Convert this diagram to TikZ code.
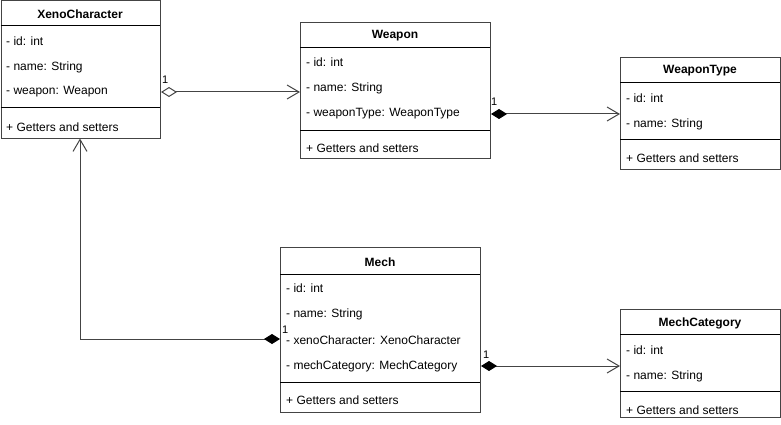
\documentclass[tikz,border=0pt]{standalone}
\usepackage{fontspec}
\setmainfont{Liberation Sans}
\usetikzlibrary{arrows.meta}
\definecolor{edgegray}{HTML}{444444}
\begin{document}
\begin{tikzpicture}[x=1pt,y=-1pt,
  box/.style={draw=edgegray, line width=1pt, inner sep=0, anchor=north west, fill=white},
  inner/.style={draw=black, line width=1pt},
  title/.style={font=\bfseries\fontsize{12}{14}\selectfont, inner sep=0},
  attr/.style={anchor=west, font=\fontsize{12}{14}\selectfont, inner sep=0},
  mult/.style={font=\fontsize{11}{13}\selectfont, inner sep=0, anchor=south west},
  conn/.style={draw=edgegray, line width=1pt},
  comp/.style={{Diamond[length=16pt,width=10pt,color=black,fill=black]}-{Straight Barb[length=12pt,width=14pt,line width=1pt]}},
  aggr/.style={{Diamond[open,length=16pt,width=10pt,line width=1pt]}-{Straight Barb[length=12pt,width=14pt,line width=1pt]}},
]
\useasboundingbox (0,0) rectangle (781,425);

% XenoCharacter
\node[box, minimum width=159.5pt, minimum height=137pt] (xeno) at (0.5,0.5) {};
\node[title] (xenoT) at (80,14) {XenoCharacter};
\draw[inner] (0.5,26) -- (160,26);
\node[attr] (xenoA1) at (6,41) {- id: int};
\node[attr] (xenoA2) at (6,67) {- name: String};
\node[attr] (xenoA3) at (6,92) {- weapon: Weapon};
\draw[inner] (0.5,108) -- (160,108);
\node[attr] (xenoM) at (6,127) {+ Getters and setters};

% Weapon
\node[box, minimum width=190pt, minimum height=136pt] (weapon) at (300,22) {};
\node[title] (weaponT) at (395,36) {Weapon};
\draw[inner] (300,48) -- (490,48);
\node[attr] (weaponA1) at (306,62) {- id: int};
\node[attr] (weaponA2) at (306,88) {- name: String};
\node[attr] (weaponA3) at (306,114) {- weaponType: WeaponType};
\draw[inner] (300,130) -- (490,130);
\node[attr] (weaponM) at (306,148) {+ Getters and setters};

% WeaponType
\node[box, minimum width=160pt, minimum height=112pt] (wtype) at (620,57) {};
\node[title] (wtypeT) at (700,71) {WeaponType};
\draw[inner] (620,83) -- (780,83);
\node[attr] (wtypeA1) at (626,98) {- id: int};
\node[attr] (wtypeA2) at (626,124) {- name: String};
\draw[inner] (620,139) -- (780,139);
\node[attr] (wtypeM) at (626,158) {+ Getters and setters};

% Mech
\node[box, minimum width=200pt, minimum height=165pt] (mech) at (280,247) {};
\node[title] (mechT) at (380,262) {Mech};
\draw[inner] (280,274) -- (480,274);
\node[attr] (mechA1) at (286,288) {- id: int};
\node[attr] (mechA2) at (286,314) {- name: String};
\node[attr] (mechA3) at (286,340) {- xenoCharacter: XenoCharacter};
\node[attr] (mechA4) at (286,366) {- mechCategory: MechCategory};
\draw[inner] (280,382) -- (480,382);
\node[attr] (mechM) at (286,400) {+ Getters and setters};

% MechCategory
\node[box, minimum width=160pt, minimum height=108pt] (mcat) at (620,309) {};
\node[title] (mcatT) at (700,323) {MechCategory};
\draw[inner] (620,334) -- (780,334);
\node[attr] (mcatA1) at (626,350) {- id: int};
\node[attr] (mcatA2) at (626,376) {- name: String};
\draw[inner] (620,391) -- (780,391);
\node[attr] (mcatM) at (626,410) {+ Getters and setters};

% Connectors
\draw[conn, aggr] (xeno.east |- xenoA3.center) -- (weapon.west |- xenoA3.center);
\node[mult] (m1) at (162,84) {1};

\draw[conn, comp] (weapon.east |- weaponA3.center) -- (wtype.west |- weaponA3.center);
\node[mult] (m2) at (491,106) {1};

\coordinate (bend) at (80,339);
\draw[conn, comp] (mech.west |- bend) -- (bend) -- (xeno.south -| bend);
\node[mult] (m3) at (282,333.5) {1};

\draw[conn, comp] (mech.east |- mechA4.center) -- (mcat.west |- mechA4.center);
\node[mult] (m4) at (483,359) {1};
\end{tikzpicture}
\end{document}
